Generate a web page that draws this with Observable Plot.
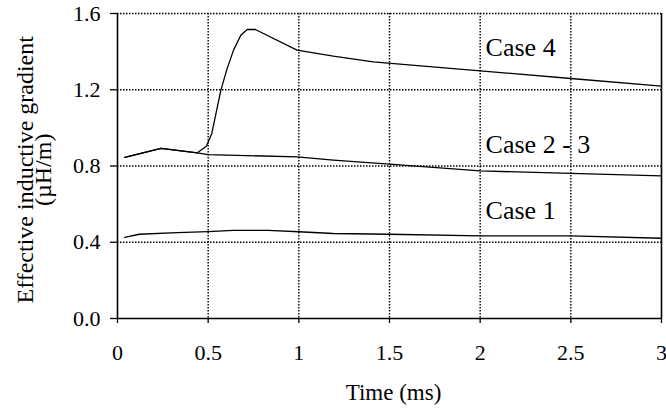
<!DOCTYPE html>
<html>
<head>
<meta charset="utf-8">
<script src="https://cdn.jsdelivr.net/npm/d3@7"></script>
<script src="https://cdn.jsdelivr.net/npm/@observablehq/plot@0.6"></script>
<style>
  html, body { margin: 0; padding: 0; background: #fff; }
  svg text { font-family: "Liberation Serif", "Times New Roman", serif; }
</style>
</head>
<body>
<div id="chart"></div>
<script>
// Tick values
const xTicks = [0, 0.5, 1, 1.5, 2, 2.5, 3];
const yTicks = [0, 0.4, 0.8, 1.2, 1.6];

// Case 4
const case4Time  = [0.04, 0.24, 0.44, 0.49, 0.52, 0.547, 0.57, 0.605, 0.64, 0.68, 0.715, 0.76, 0.99, 1.19, 1.41, 2.0, 2.5, 3.0];
const case4Value = [0.845, 0.892, 0.869, 0.904, 0.971, 1.093, 1.198, 1.312, 1.408, 1.486, 1.516, 1.516, 1.408, 1.376, 1.346, 1.299, 1.259, 1.219];

// Case 2 - 3
const case23Time  = [0.04, 0.24, 0.44, 0.5, 0.99, 1.19, 1.5, 2.0, 2.5, 3.0];
const case23Value = [0.845, 0.892, 0.869, 0.860, 0.848, 0.831, 0.81, 0.774, 0.761, 0.748];

// Case 1
const case1Time  = [0.04, 0.12, 0.33, 0.5, 0.64, 0.83, 1.0, 1.19, 1.5, 2.0, 2.5, 3.0];
const case1Value = [0.425, 0.442, 0.451, 0.456, 0.462, 0.462, 0.455, 0.446, 0.442, 0.433, 0.433, 0.421];

// Series labels
const labelText  = ["Case 4", "Case 2 - 3", "Case 1"];
const labelTime  = [2.03, 2.03, 2.03];
const labelValue = [1.375, 0.869, 0.52];

const xTitle = "Time (ms)";
const yTitleLines = ["Effective inductive gradient", "(\u00b5H/m)"];

const FONT = "'Liberation Serif', 'Times New Roman', serif";

const toRows = (t, v) => t.map((d, i) => ({t: d, v: v[i]}));
const s4 = toRows(case4Time, case4Value);
const s23 = toRows(case23Time, case23Value);
const s1 = toRows(case1Time, case1Value);
const labels = labelText.map((d, i) => ({text: d, t: labelTime[i], v: labelValue[i]}));

const dotted = {stroke: "#000", strokeOpacity: 1, strokeWidth: 1.4, strokeDasharray: "1.5,1.5"};
const lineStyle = {x: "t", y: "v", stroke: "#000", strokeWidth: 1.3, curve: "linear"};

const chart = Plot.plot({
  width: 666,
  height: 408,
  marginLeft: 117,
  marginRight: 5,
  marginTop: 13,
  marginBottom: 90,
  style: {fontFamily: FONT, fontSize: "22px", color: "#000", background: "#fff"},
  x: {domain: [0, 3], label: null},
  y: {domain: [0, 1.6], label: null},
  marks: [
    Plot.gridX(xTicks.filter(d => d > 0 && d < 3), dotted),
    Plot.gridY(yTicks.filter(d => d > 0), dotted),
    Plot.axisX({ticks: xTicks, tickSize: 5, tickPadding: 21, tickFormat: d => String(d), label: null, stroke: "#000", strokeWidth: 1.3, fontFamily: FONT, fontSize: 22}),
    Plot.axisY({ticks: yTicks, tickSize: 7, tickPadding: 10, tickFormat: d3.format(".1f"), label: null, stroke: "#000", strokeWidth: 1.3, fontFamily: FONT, fontSize: 22}),
    Plot.ruleX([0, 3], {stroke: "#000", strokeWidth: 1.6}),
    Plot.ruleY([0], {stroke: "#000", strokeWidth: 1.6}),
    Plot.line(s4, lineStyle),
    Plot.line(s23, lineStyle),
    Plot.line(s1, lineStyle),
    Plot.text(labels, {x: "t", y: "v", text: "text", textAnchor: "start", lineAnchor: "bottom", fontSize: 26, fontFamily: FONT, fill: "#000"}),
    Plot.text([xTitle], {x: [1.5], y: [0], dy: 81, dx: 4, textAnchor: "middle", lineAnchor: "bottom", fontSize: 23, fontFamily: FONT, fill: "#000"}),
    Plot.text([yTitleLines[0]], {x: [0], y: [0.78], dx: -85, rotate: -90, textAnchor: "middle", lineAnchor: "bottom", fontSize: 24, fontFamily: FONT, fill: "#000"}),
    Plot.text([yTitleLines[1]], {x: [0], y: [0.78], dx: -67, rotate: -90, textAnchor: "middle", lineAnchor: "bottom", fontSize: 24, fontFamily: FONT, fill: "#000"})
  ]
});
document.getElementById("chart").appendChild(chart);
</script>
</body>
</html>
